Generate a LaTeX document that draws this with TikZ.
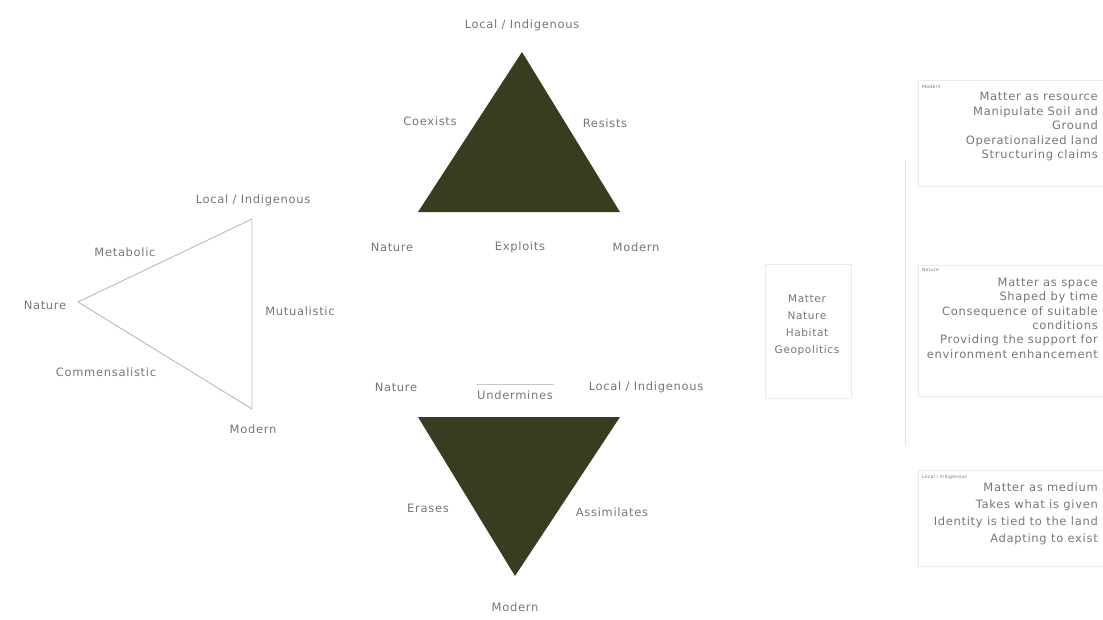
\documentclass[tikz,border=0pt]{standalone}
\usepackage{fontspec}
\setmainfont{DejaVu Sans}[LetterSpace=6]
\usepackage{tikz}
\usetikzlibrary{calc,positioning}
\usepackage{xcolor}
\definecolor{myolive}{RGB}{57,61,31}
\definecolor{mygray}{RGB}{118,118,118}
\definecolor{mylight}{RGB}{185,185,185}

\begin{document}
\begin{tikzpicture}[
  x=1pt, y=-1pt,
  every node/.style={font=\fontsize{11.5}{13}\selectfont, text=mygray, inner sep=1pt},
  edge/.style={draw=mylight, line width=0.9pt},
  tri/.style={fill=myolive},
  panel/.style={draw=black!8, line width=0.6pt},
  head/.style={font=\fontsize{4.5}{5}\selectfont, anchor=south west},
  item/.style={align=right, anchor=north east}
]
\useasboundingbox (0,0) rectangle (1103,619);
\clip (0,0) rectangle (1103,619);

% left triangle: open outline
\coordinate (lnat) at (78,302);
\coordinate (lloc) at (252,219);
\coordinate (lmod) at (252,409);
\draw[edge] (lnat) -- (lloc) -- (lmod) -- cycle;
\node (lLoc) at (253,200) {Local / Indigenous};
\node (lNat) at (45,305) {Nature};
\node (lMod) at (253,429) {Modern};
\node (lMet) at (125,252) {Metabolic};
\node (lMut) at (300,311) {Mutualistic};
\node (lCom) at (106,372) {Commensalistic};

% upper triangle
\coordinate (uloc) at (522,52);
\coordinate (unat) at (418,212);
\coordinate (umod) at (620,212);
\fill[tri] (uloc) -- (unat) -- (umod) -- cycle;
\node (uLoc) at (522,25) {Local / Indigenous};
\node (uNat) at (392,247) {Nature};
\node (uMod) at (636,247) {Modern};
\node (uCoe) at (430,121) {Coexists};
\node (uRes) at (605,123) {Resists};
\node (uExp) at (520,247) {Exploits};

% lower triangle
\coordinate (dnat) at (418,417);
\coordinate (dloc) at (620,417);
\coordinate (dmod) at (515,576);
\fill[tri] (dnat) -- (dloc) -- (dmod) -- cycle;
\node (dNat) at (396,387) {Nature};
\node (dLoc) at (646,387) {Local / Indigenous};
\node (dMod) at (515,607) {Modern};
\node (dUnd) at (515,395) {Undermines};
\draw[draw=black!22, line width=0.6pt] ($(dUnd.north west)+(0,-5)$) -- ($(dUnd.north east)+(0,-5)$);
\node (dEra) at (428,508) {Erases};
\node (dAss) at (612,512) {Assimilates};

% middle key
\draw[panel] (765,264) rectangle (851,398);
\node[align=center, font=\fontsize{10.5}{17}\selectfont] (keys) at (807,325)
  {Matter\\Nature\\Habitat\\Geopolitics};

% right column
\draw[draw=black!12, line width=0.6pt] (905,160) -- (905,445);

\draw[panel] (918,80) rectangle (1110,186);
\node[head] (hMod) at (921,90) {Modern};
\node[item, font=\fontsize{11.5}{14.5}\selectfont] (tMod) at (1099,91)
  {Matter as resource\\Manipulate Soil and\\Ground\\Operationalized land\\Structuring claims};

\draw[panel] (918,265) rectangle (1110,396);
\node[head] (hNat) at (921,273) {Nature};
\node[item, font=\fontsize{11.5}{14.3}\selectfont] (tNat) at (1099,277)
  {Matter as space\\Shaped by time\\Consequence of suitable\\conditions\\Providing the support for\\environment enhancement};

\draw[panel] (918,470) rectangle (1110,566);
\node[head] (hLoc) at (921,481) {Local / Indigenous};
\node[item, font=\fontsize{11.5}{17}\selectfont] (tLoc) at (1099,482)
  {Matter as medium\\Takes what is given\\Identity is tied to the land\\Adapting to exist};
\end{tikzpicture}
\end{document}
